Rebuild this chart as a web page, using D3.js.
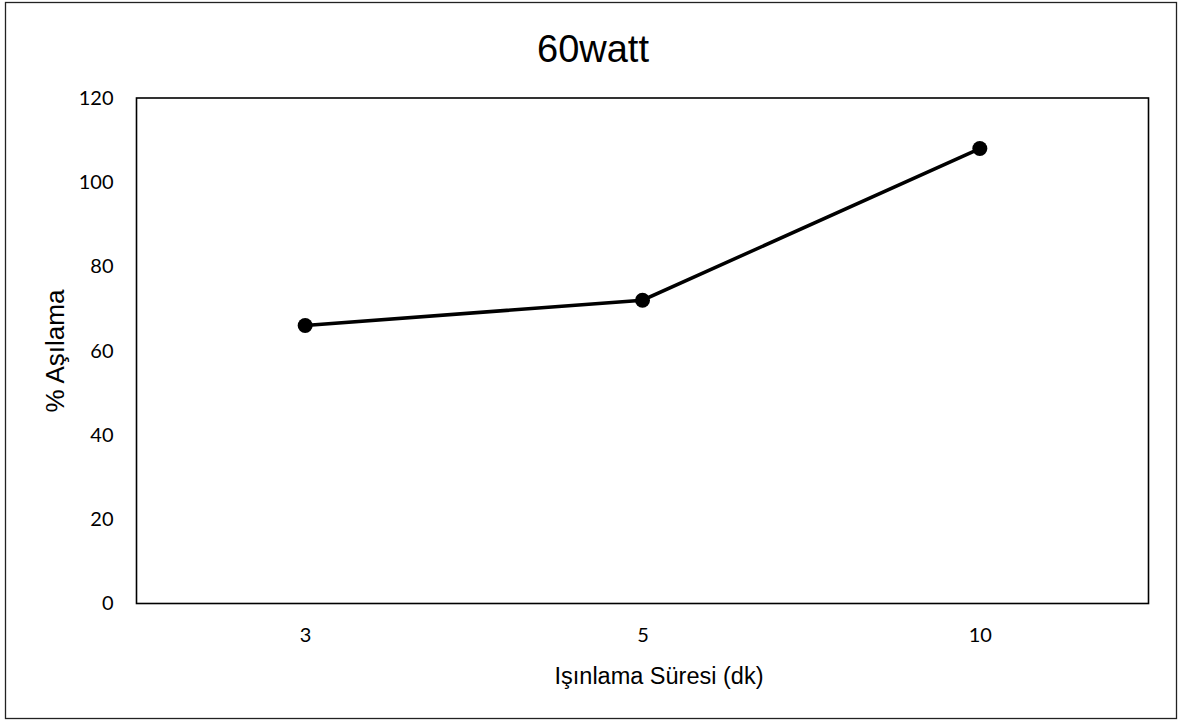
<!DOCTYPE html>
<html>
<head>
<meta charset="utf-8">
<script src="https://cdn.jsdelivr.net/npm/d3@7"></script>
<style>
  html, body { margin: 0; padding: 0; background: #fff; }
</style>
</head>
<body>
<div id="chart"></div>
<script>
const categories = ["3", "5", "10"];
const values = [66, 72, 108];
const yTicks = [0, 20, 40, 60, 80, 100, 120];

const WIDTH = 1178;
const HEIGHT = 720;
const PLOT = { left: 136.5, right: 1148.5, top: 98, bottom: 603.5 };

const svg = d3.select("#chart")
  .append("svg")
  .attr("width", WIDTH)
  .attr("height", HEIGHT);

// outer frame
svg.append("rect")
  .attr("x", 5.5).attr("y", 2.5)
  .attr("width", 1171).attr("height", 716)
  .attr("fill", "#fff")
  .attr("stroke", "#222")
  .attr("stroke-width", 1.3);

const x = d3.scalePoint()
  .domain(categories)
  .range([PLOT.left, PLOT.right])
  .padding(0.5);

const y = d3.scaleLinear()
  .domain([0, 120])
  .range([PLOT.bottom, PLOT.top]);

// plot box
svg.append("rect")
  .attr("x", PLOT.left).attr("y", PLOT.top)
  .attr("width", PLOT.right - PLOT.left)
  .attr("height", PLOT.bottom - PLOT.top)
  .attr("fill", "none")
  .attr("stroke", "#000")
  .attr("stroke-width", 1.6);

const yAxis = d3.axisLeft(y).tickValues(yTicks).tickSize(0).tickPadding(23);
svg.append("g")
  .attr("transform", `translate(${PLOT.left},0)`)
  .call(yAxis)
  .call((g) => g.select(".domain").remove())
  .call((g) => g.selectAll("text")
    .attr("font-family", "Lato, 'Open Sans', sans-serif")
    .attr("font-size", 20)
    .attr("fill", "#000"));

const xAxis = d3.axisBottom(x).tickSize(0).tickPadding(24);
svg.append("g")
  .attr("transform", `translate(0,${PLOT.bottom})`)
  .call(xAxis)
  .call((g) => g.select(".domain").remove())
  .call((g) => g.selectAll("text")
    .attr("font-family", "Lato, 'Open Sans', sans-serif")
    .attr("font-size", 20)
    .attr("fill", "#000"));

svg.append("text")
  .attr("x", 593)
  .attr("y", 62)
  .attr("text-anchor", "middle")
  .attr("font-family", "'Liberation Sans', Arial, sans-serif")
  .attr("font-size", 38)
  .text("60watt");

svg.append("text")
  .attr("x", 659)
  .attr("y", 684)
  .attr("text-anchor", "middle")
  .attr("font-family", "'Liberation Sans', Arial, sans-serif")
  .attr("font-size", 23.5)
  .text("Işınlama Süresi (dk)");

svg.append("text")
  .attr("transform", "translate(64,351) rotate(-90)")
  .attr("text-anchor", "middle")
  .attr("font-family", "'Liberation Sans', Arial, sans-serif")
  .attr("font-size", 26)
  .text("% Aşılama");

const points = categories.map((c, i) => ({ c, v: values[i] }));

const line = d3.line()
  .x((d) => x(d.c))
  .y((d) => y(d.v));

svg.append("path")
  .datum(points)
  .attr("d", line)
  .attr("fill", "none")
  .attr("stroke", "#000")
  .attr("stroke-width", 3.5);

svg.append("g")
  .selectAll("circle")
  .data(points)
  .join("circle")
  .attr("cx", (d) => x(d.c))
  .attr("cy", (d) => y(d.v))
  .attr("r", 7.5)
  .attr("fill", "#000");
</script>
</body>
</html>
